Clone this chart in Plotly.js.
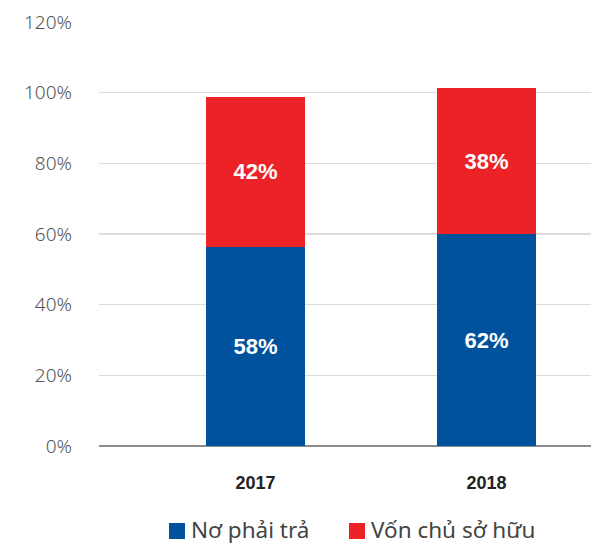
<!DOCTYPE html>
<html>
<head>
<meta charset="utf-8">
<script src="https://cdn.plot.ly/plotly-3.0.1.min.js"></script>
<style>html,body{margin:0;padding:0;background:#fff;}#chart{width:591px;height:545px;}</style>
</head>
<body>
<div id="chart"></div>
<script>
const years = ["2017", "2018"];
const debtValues = [56.3, 60.0];
const equityValues = [42.5, 41.3];
const debtLabels = ["58%", "62%"];
const equityLabels = ["42%", "38%"];
const seriesNames = ["Nơ phải trả", "Vốn chủ sở hữu"];
const seriesColors = ["#00529c", "#ec2227"];
const yTicks = [0, 20, 40, 60, 80, 100, 120];
const yTickLabels = ["0%", "20%", "40%", "60%", "80%", "100%", "120%"];

const boldFont = "'Liberation Sans', Arial, sans-serif";
const barFont = {family: boldFont, size: 22, color: "#ffffff", weight: 700};

const traces = [
  {type: "bar", x: years, y: debtValues, name: seriesNames[0], text: debtLabels,
   textposition: "inside", insidetextanchor: "middle", textfont: barFont, marker: {color: seriesColors[0]},
   width: 0.43, hoverinfo: "skip", showlegend: false},
  {type: "bar", x: years, y: equityValues, name: seriesNames[1], text: equityLabels,
   textposition: "inside", insidetextanchor: "middle", textfont: barFont, marker: {color: seriesColors[1]},
   width: 0.43, hoverinfo: "skip", showlegend: false}
];

// Custom legend (keys + labels) in paper coordinates
const legendKeyX = [0.1423, 0.5081];
const legendKeySize = 0.0325;
const legendKeyY = [-0.2193, -0.1816];
const legendTextX = [0.185, 0.5508];
const legendTextY = -0.1958;
const legendFont = {family: "'Noto Sans', 'Open Sans', sans-serif", size: 22.5, color: "#444444"};

const shapes = seriesNames.map((n, i) => ({
  type: "rect", xref: "paper", yref: "paper",
  x0: legendKeyX[i], x1: legendKeyX[i] + legendKeySize, y0: legendKeyY[0], y1: legendKeyY[1],
  fillcolor: seriesColors[i], line: {width: 0}
}));
const annotations = seriesNames.map((n, i) => ({
  text: n, xref: "paper", yref: "paper", x: legendTextX[i], y: legendTextY,
  xanchor: "left", yanchor: "middle", showarrow: false, font: legendFont, borderpad: 0
}));

const layout = {
  width: 591, height: 545,
  margin: {l: 99, r: 0, t: 22, b: 99, autoexpand: false},
  barmode: "stack",
  paper_bgcolor: "#ffffff", plot_bgcolor: "#ffffff",
  showlegend: false,
  shapes: shapes,
  annotations: annotations,
  xaxis: {type: "category", range: [-0.677, 1.452], showgrid: false, zeroline: false, showline: false,
          ticks: "", tickfont: {family: boldFont, size: 18, color: "#222222", weight: 700},
          ticklabelstandoff: 24},
  yaxis: {range: [0, 120], tickvals: yTicks, ticktext: yTickLabels, showgrid: true, gridcolor: "#dcdcdc", gridwidth: 1.3,
          zeroline: true, zerolinecolor: "#8c8c8c", zerolinewidth: 2.5, showline: false, ticks: "",
          tickfont: {family: "'Noto Sans', 'Open Sans', sans-serif", size: 19, color: "#555555", weight: 300},
          ticklabelstandoff: 26}
};

Plotly.newPlot("chart", traces, layout, {displayModeBar: false, staticPlot: true});
</script>
</body>
</html>
